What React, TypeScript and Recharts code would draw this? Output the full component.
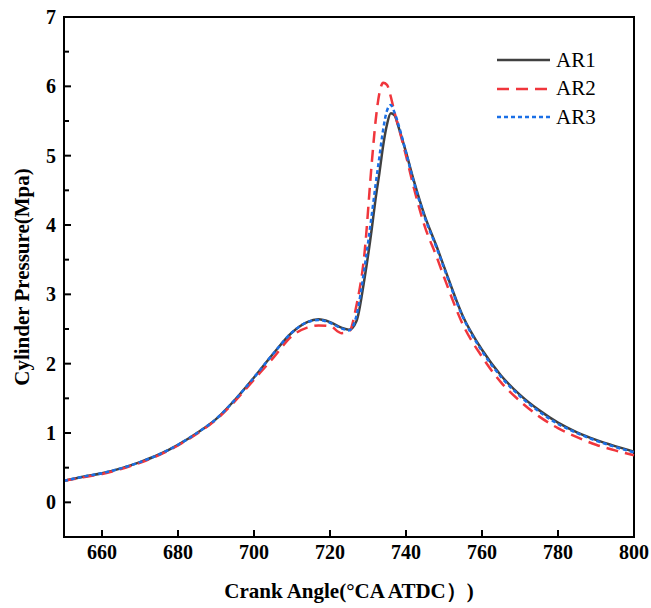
import { LineChart, Line, XAxis, YAxis, ReferenceArea } from "recharts";

const angles = [
  650, 655, 660, 665, 670, 675, 680, 685, 690, 695, 700, 705, 710, 714, 717, 720, 723, 725, 727, 729, 731, 732,
  733, 734, 735, 736, 737, 738, 740, 742, 745, 748, 750, 755, 760, 765, 770, 775, 780, 785, 790, 795, 800,
];

const ar1 = [
  0.31, 0.37, 0.42, 0.49, 0.58, 0.69, 0.83, 1.0, 1.2, 1.48, 1.8, 2.14, 2.45, 2.6, 2.64, 2.6, 2.52, 2.49, 2.62, 3.2,
  3.95, 4.38, 4.75, 5.15, 5.45, 5.61, 5.58, 5.42, 5.05, 4.65, 4.12, 3.7, 3.4, 2.68, 2.2, 1.83, 1.55, 1.33, 1.15,
  1.01, 0.9, 0.81, 0.73,
];

const ar2 = [
  0.31, 0.36, 0.41, 0.48, 0.57, 0.68, 0.82, 0.99, 1.19, 1.46, 1.77, 2.08, 2.4, 2.52, 2.55, 2.54, 2.44, 2.46, 2.85,
  3.55, 4.9, 5.5, 5.9, 6.05, 6.02, 5.85, 5.62, 5.42, 5.0, 4.55, 3.97, 3.55, 3.25, 2.56, 2.1, 1.73, 1.46, 1.24, 1.07,
  0.94, 0.83, 0.75, 0.68,
];

const ar3 = [
  0.31, 0.37, 0.42, 0.49, 0.58, 0.69, 0.83, 1.0, 1.2, 1.48, 1.8, 2.14, 2.45, 2.6, 2.63, 2.59, 2.51, 2.48, 2.7, 3.35,
  4.15, 4.58, 4.98, 5.38, 5.65, 5.73, 5.62, 5.45, 5.05, 4.63, 4.1, 3.68, 3.38, 2.67, 2.18, 1.81, 1.53, 1.31, 1.13,
  1.0, 0.89, 0.8, 0.72,
];

const xTicks = [660, 680, 700, 720, 740, 760, 780, 800];
const yTicks = [0, 0.5, 1, 1.5, 2, 2.5, 3, 3.5, 4, 4.5, 5, 5.5, 6, 6.5, 7];

const series = [
  { key: "AR1", color: "#404040", dash: undefined as string | undefined },
  { key: "AR2", color: "#f0363c", dash: "12 7" },
  { key: "AR3", color: "#1a6fe6", dash: "4 3" },
];

const data = angles.map((a, i) => ({ angle: a, AR1: ar1[i], AR2: ar2[i], AR3: ar3[i] }));

const font = "'Liberation Serif', 'Times New Roman', serif";

function XTick(props: any) {
  const { x, y, payload } = props;
  return (
    <g>
      <line x1={x} x2={x} y1={y} y2={y - 7} stroke="#000" strokeWidth={2} />
      <text x={x} y={y + 22} textAnchor="middle" fontFamily={font} fontWeight="bold" fontSize={20} fill="#000">
        {payload.value}
      </text>
    </g>
  );
}

function YTick(props: any) {
  const { x, y, payload } = props;
  const major = Number.isInteger(payload.value);
  return (
    <g>
      <line x1={x} x2={x + (major ? 7 : 5)} y1={y} y2={y} stroke="#000" strokeWidth={2} />
      {major && (
        <text x={x - 8} y={y + 7} textAnchor="end" fontFamily={font} fontWeight="bold" fontSize={20} fill="#000">
          {payload.value}
        </text>
      )}
    </g>
  );
}

function Legend() {
  return (
    <div style={{ position: "absolute", left: 497, top: 46, fontFamily: font, fontSize: 21 }}>
      {series.map((s) => (
        <div key={s.key} style={{ display: "flex", alignItems: "center", height: 28.5 }}>
          <svg width={54} height={10} style={{ marginRight: 5 }}>
            <line x1={0} x2={53} y1={5} y2={5} stroke={s.color} strokeWidth={2.5} strokeDasharray={s.dash} />
          </svg>
          <span>{s.key}</span>
        </div>
      ))}
    </div>
  );
}

export default function App() {
  return (
    <div style={{ position: "absolute", left: 0, top: 0, width: 651, height: 608, background: "#fff" }}>
      <LineChart width={651} height={608} data={data} margin={{ top: 17, right: 17, bottom: 0, left: 0 }}>
        <XAxis
          dataKey="angle"
          type="number"
          domain={[650, 800]}
          ticks={xTicks}
          height={71}
          tickSize={0}
          tickMargin={0}
          tickLine={false}
          tick={<XTick />}
          axisLine={{ stroke: "#000", strokeWidth: 2 }}
          label={{
            content: () => (
              <text x={349} y={598} textAnchor="middle" fontFamily={font} fontWeight="bold" fontSize={21} fill="#000">
                Crank Angle(°CA ATDC）)
              </text>
            ),
          }}
        />
        <YAxis
          type="number"
          domain={[-0.5, 7]}
          ticks={yTicks}
          width={64}
          tickSize={0}
          tickMargin={0}
          tickLine={false}
          tick={<YTick />}
          interval={0}
          axisLine={{ stroke: "#000", strokeWidth: 2 }}
          label={{
            content: () => (
              <text
                x={22}
                y={277}
                transform="rotate(-90 22 277)"
                textAnchor="middle"
                dominantBaseline="central"
                fontFamily={font}
                fontWeight="bold"
                fontSize={21}
                fill="#000"
              >
                Cylinder Pressure(Mpa)
              </text>
            ),
          }}
        />
        <ReferenceArea x1={650} x2={800} y1={-0.5} y2={7} fill="none" stroke="#000" strokeWidth={2} />
        {series.map((s) => (
          <Line
            key={s.key}
            type="monotone"
            dataKey={s.key}
            stroke={s.color}
            strokeWidth={2.5}
            strokeDasharray={s.dash}
            dot={false}
            activeDot={false}
            isAnimationActive={false}
          />
        ))}
      </LineChart>
      <Legend />
    </div>
  );
}
